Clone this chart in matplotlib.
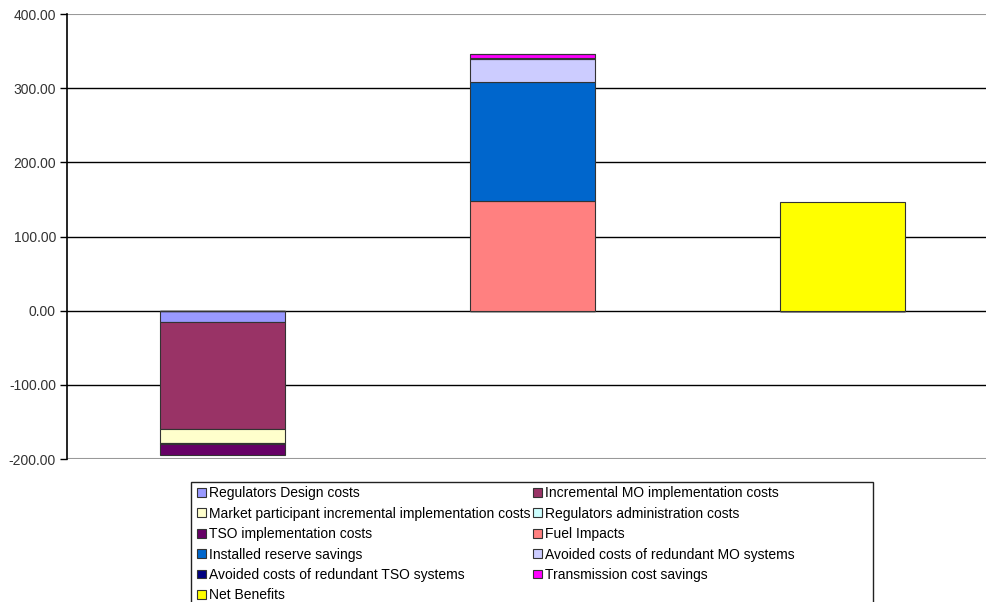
import matplotlib.pyplot as plt
import matplotlib.patches as mpatches
import numpy as np

plt.rcParams['font.family'] = ['Liberation Sans', 'DejaVu Sans']

# one value per bar: costs, benefits, net
categories = ['Costs', 'Benefits', 'Net']
series_names = [
    'Regulators Design costs',
    'Incremental MO implementation costs',
    'Market participant incremental implementation costs',
    'Regulators administration costs',
    'TSO implementation costs',
    'Fuel Impacts',
    'Installed reserve savings',
    'Avoided costs of redundant MO systems',
    'Avoided costs of redundant TSO systems',
    'Transmission cost savings',
    'Net Benefits',
]
reg_design = [-15.6, 0, 0]
incr_mo = [-144.3, 0, 0]
market_part = [-18.9, 0, 0]
reg_admin = [-1.5, 0, 0]
tso_impl = [-14.0, 0, 0]
fuel = [0, 147.9, 0]
installed = [0, 160.9, 0]
avoided_mo = [0, 30.6, 0]
avoided_tso = [0, 1.0, 0]
transmission = [0, 5.7, 0]
net = [0, 0, 146.2]

all_series = [reg_design, incr_mo, market_part, reg_admin, tso_impl, fuel,
              installed, avoided_mo, avoided_tso, transmission, net]
colors = ['#9999FF', '#993366', '#FFFFCC', '#CCFFFF', '#660066', '#FF8080',
          '#0066CC', '#CCCCFF', '#000080', '#FF00FF', '#FFFF00']

fig = plt.figure(figsize=(9.86, 6.02), dpi=100)
ax = fig.add_axes([0.068, 0.2375, 0.944, 0.739])

x = np.arange(len(categories))
pos_bottom = np.zeros(len(categories))
neg_bottom = np.zeros(len(categories))
handles = []
for name, vals, col in zip(series_names, all_series, colors):
    vals = np.array(vals, dtype=float)
    bottom = np.where(vals >= 0, pos_bottom, neg_bottom)
    ax.bar(x, vals, 0.403, bottom=bottom, color=col, edgecolor='#333333',
           linewidth=0.8, zorder=3, label=name)
    pos_bottom += np.where(vals > 0, vals, 0)
    neg_bottom += np.where(vals < 0, vals, 0)
    handles.append(mpatches.Patch(facecolor=col, edgecolor='#333333', linewidth=0.8))

ax.set_xlim(-0.5, 2.5)
ax.set_ylim(-200, 400)
ax.set_yticks(np.arange(-200, 401, 100))
ax.set_yticklabels(['%.2f' % v for v in np.arange(-200, 401, 100)])
ax.set_xticks([])
for v in np.arange(-100, 301, 100):
    ax.axhline(v, color='black', linewidth=1.0, zorder=1)
ax.axhline(400, color='#999999', linewidth=1.5, zorder=1)
ax.axhline(-200, color='#999999', linewidth=1.5, zorder=1)
for s in ['top', 'right', 'bottom']:
    ax.spines[s].set_visible(False)
ax.spines['left'].set_linewidth(1.2)
ax.tick_params(axis='y', length=5, width=1.0, labelsize=10, labelcolor='#333333', pad=3)

# legend box, row-major order like the original
order = [0, 2, 4, 6, 8, 10, 1, 3, 5, 7, 9]
fig.legend([handles[i] for i in order], [series_names[i] for i in order],
           ncol=2, loc='upper left', bbox_to_anchor=(0.2, 0.192), frameon=False,
           fontsize=10, handlelength=0.6, handleheight=0.6, handletextpad=0.25,
           columnspacing=0.2, labelspacing=0.46, borderaxespad=0, borderpad=0)
fig.patches.append(mpatches.Rectangle((191 / 986, -0.1), (873 - 191) / 986, 0.1 + (1 - 482 / 602),
                                      transform=fig.transFigure, fill=False,
                                      edgecolor='#222222', linewidth=1.0))

fig.savefig('out.png', dpi=100)
